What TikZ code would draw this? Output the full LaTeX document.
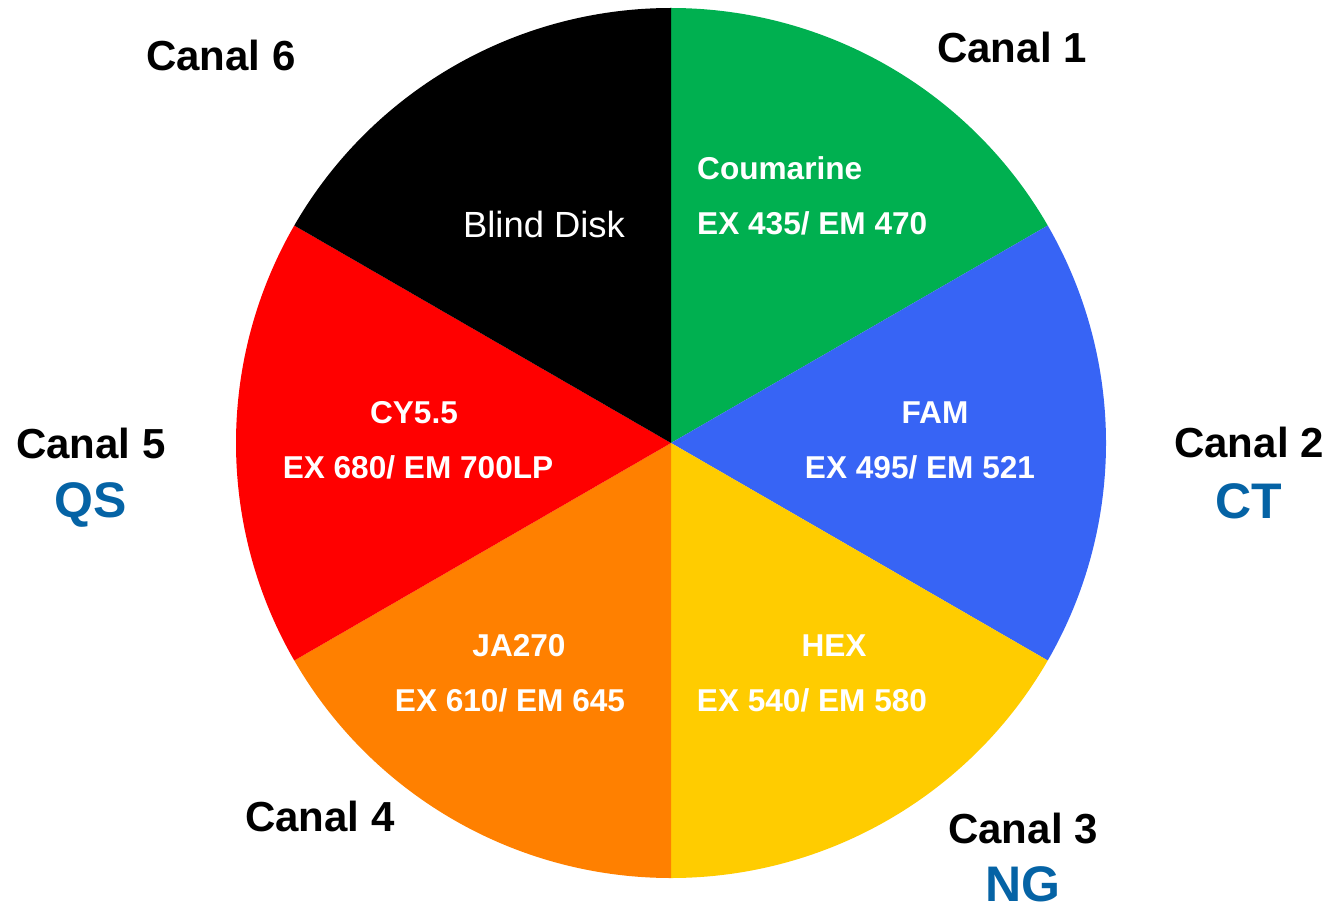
\documentclass[tikz,border=0pt]{standalone}
\usepackage{fontspec}
\setmainfont{Liberation Sans}
\definecolor{cgreen}{HTML}{00B050}
\definecolor{cblue}{HTML}{3764F5}
\definecolor{cyellow}{HTML}{FFCC00}
\definecolor{corange}{HTML}{FF8000}
\definecolor{cred}{HTML}{FF0000}
\definecolor{ctext}{HTML}{0563A5}
\begin{document}
\begin{tikzpicture}[x=1pt,y=-1pt,
  canal/.style={anchor=base,inner sep=0pt,font=\fontsize{42}{48}\selectfont\bfseries},
  code/.style={anchor=base,inner sep=0pt,text=ctext,font=\fontsize{50}{56}\selectfont\bfseries},
  dye/.style={anchor=base,inner sep=0pt,text=white,font=\fontsize{31.6}{36}\selectfont\bfseries},
  dyeL/.style={anchor=base west,inner sep=0pt,text=white,font=\fontsize{31.6}{36}\selectfont\bfseries}]
\useasboundingbox (0,0) rectangle (1332,909);
\coordinate (c) at (671,443);
\def\R{435pt}
\fill[cgreen]  (c) -- ++(90:\R)  arc[start angle=90,  end angle=30,   radius=\R] -- cycle;
\fill[cblue]   (c) -- ++(30:\R)  arc[start angle=30,  end angle=-30,  radius=\R] -- cycle;
\fill[cyellow] (c) -- ++(-30:\R) arc[start angle=-30, end angle=-90,  radius=\R] -- cycle;
\fill[corange] (c) -- ++(-90:\R) arc[start angle=-90, end angle=-150, radius=\R] -- cycle;
\fill[cred]    (c) -- ++(210:\R) arc[start angle=210, end angle=150,  radius=\R] -- cycle;
\fill[black]   (c) -- ++(150:\R) arc[start angle=150, end angle=90,   radius=\R] -- cycle;
% outer labels
\node[canal] (k1) at (1012,63) {Canal 1};
\node[canal] (k2) at (1249,457) {Canal 2};
\node[code]  (t2) at (1249,518) {CT};
\node[canal] (k3) at (1023,843) {Canal 3};
\node[code]  (t3) at (1023,901) {NG};
\node[canal] (k4) at (320,831) {Canal 4};
\node[canal] (k5) at (91,458) {Canal 5};
\node[code]  (t5) at (91,517) {QS};
\node[canal] (k6) at (221,71) {Canal 6};
% inner labels
\node[dyeL] (d1a) at (697,180) {Coumarine};
\node[dyeL] (d1b) at (697,235) {EX 435/ EM 470};
\node[dye] (d2a) at (935,423) {FAM};
\node[dye] (d2b) at (920,478) {EX 495/ EM 521};
\node[dye] (d3a) at (834,656) {HEX};
\node[dye] (d3b) at (812,711) {EX 540/ EM 580};
\node[dye] (d4a) at (519,656) {JA270};
\node[dye] (d4b) at (510,711) {EX 610/ EM 645};
\node[dye] (d5a) at (414,423) {CY5.5};
\node[dye] (d5b) at (418,478) {EX 680/ EM 700LP};
\node[anchor=base,inner sep=0pt,text=white,font=\fontsize{36.4}{42}\selectfont] (d6) at (544,237) {Blind Disk};
\end{tikzpicture}
\end{document}
